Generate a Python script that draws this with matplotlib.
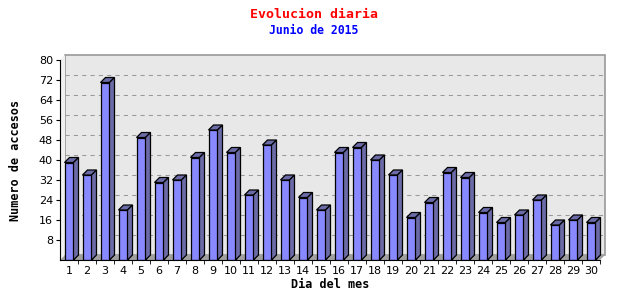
import numpy as np
import matplotlib
matplotlib.use("Agg")
import matplotlib.pyplot as plt
from matplotlib.patches import Polygon, Rectangle

# datos
dias = list(range(1, 31))
accesos = [39, 34, 71, 20, 49, 31, 32, 41, 52, 43,
           26, 46, 32, 25, 20, 43, 45, 40, 34, 17,
           23, 35, 33, 19, 15, 18, 24, 14, 16, 15]
yticks = [8, 16, 24, 32, 40, 48, 56, 64, 72, 80]

titulo = "Evolucion diaria"
subtitulo = "Junio de 2015"
xlab = "Dia del mes"
ylab = "Numero de accesos"

front = '#8888ff'
shade = '#6b6ba8'
mono = 'DejaVu Sans Mono'

fig = plt.figure(figsize=(6.4, 3.0), dpi=100)
ax = fig.add_axes([60/640, 40/300, 540/640, 200/300])
ax.set_xlim(0.5, 30.5)
ax.set_ylim(0, 80)
ax.set_facecolor('none')

bw = 0.5
dx = 5/18.0   # profundidad en unidades de datos
dy = 2.0

x0, x1 = 0.5, 30.5
# pared del fondo
ax.add_patch(Rectangle((x0+dx, dy), x1-x0, 80, facecolor='#e8e8e8', edgecolor='#999999',
                       lw=1.2, zorder=0, clip_on=False))
# pared izquierda
ax.add_patch(Polygon([(x0, 0), (x0+dx, dy), (x0+dx, 80+dy), (x0, 80)], closed=True,
                     facecolor='#f0f0f0', edgecolor='none', zorder=0.5, clip_on=False))
# suelo
ax.add_patch(Polygon([(x0, 0), (x1, 0), (x1+dx, dy), (x0+dx, dy)], closed=True,
                     facecolor='#a0a0a0', edgecolor='none', zorder=0.6, clip_on=False))
for t in yticks[:-1]:
    ax.plot([x0+dx, x1+dx], [t+dy, t+dy], color='#999999', lw=0.75, ls=(0, (4, 4)),
            zorder=0.7, clip_on=False)

ax.bar(dias, accesos, width=bw, color=front, edgecolor='black', linewidth=0.9, zorder=3)
for d, v in zip(dias, accesos):
    l, r = d - bw/2, d + bw/2
    ax.add_patch(Polygon([(l, v), (r, v), (r+dx, v+dy), (l+dx, v+dy)], closed=True,
                         facecolor=shade, edgecolor='black', lw=0.9, zorder=3, clip_on=False))
    ax.add_patch(Polygon([(r, 0), (r+dx, dy), (r+dx, v+dy), (r, v)], closed=True,
                         facecolor=shade, edgecolor='black', lw=0.9, zorder=3, clip_on=False))

for s in ['top', 'right']:
    ax.spines[s].set_visible(False)
ax.spines['left'].set_color('black')
ax.spines['bottom'].set_color('black')
ax.spines['left'].set_zorder(4)
ax.spines['bottom'].set_zorder(4)

ax.set_yticks(yticks)
ax.tick_params(axis='y', length=3, labelsize=8, pad=2)
ax.set_xticks(dias)
ax.set_xticklabels([str(d) for d in dias])
ax.set_xticks(np.arange(1.5, 31, 1), minor=True)
ax.tick_params(axis='x', which='major', length=0, labelsize=8, pad=4)
ax.tick_params(axis='x', which='minor', length=3)

ax.set_xlabel(xlab, family=mono, fontweight='bold', fontsize=8.5, labelpad=2)
ax.set_ylabel(ylab, family=mono, fontweight='bold', fontsize=8.5, labelpad=12)

fig.text(0.49, 1 - 14/300, titulo, color='red', family=mono, fontweight='bold',
         fontsize=9.5, ha='center', va='center')
fig.text(0.49, 1 - 31/300, subtitulo, color='blue', family=mono, fontweight='bold',
         fontsize=8.3, ha='center', va='center')

fig.savefig('out.png', dpi=100)
